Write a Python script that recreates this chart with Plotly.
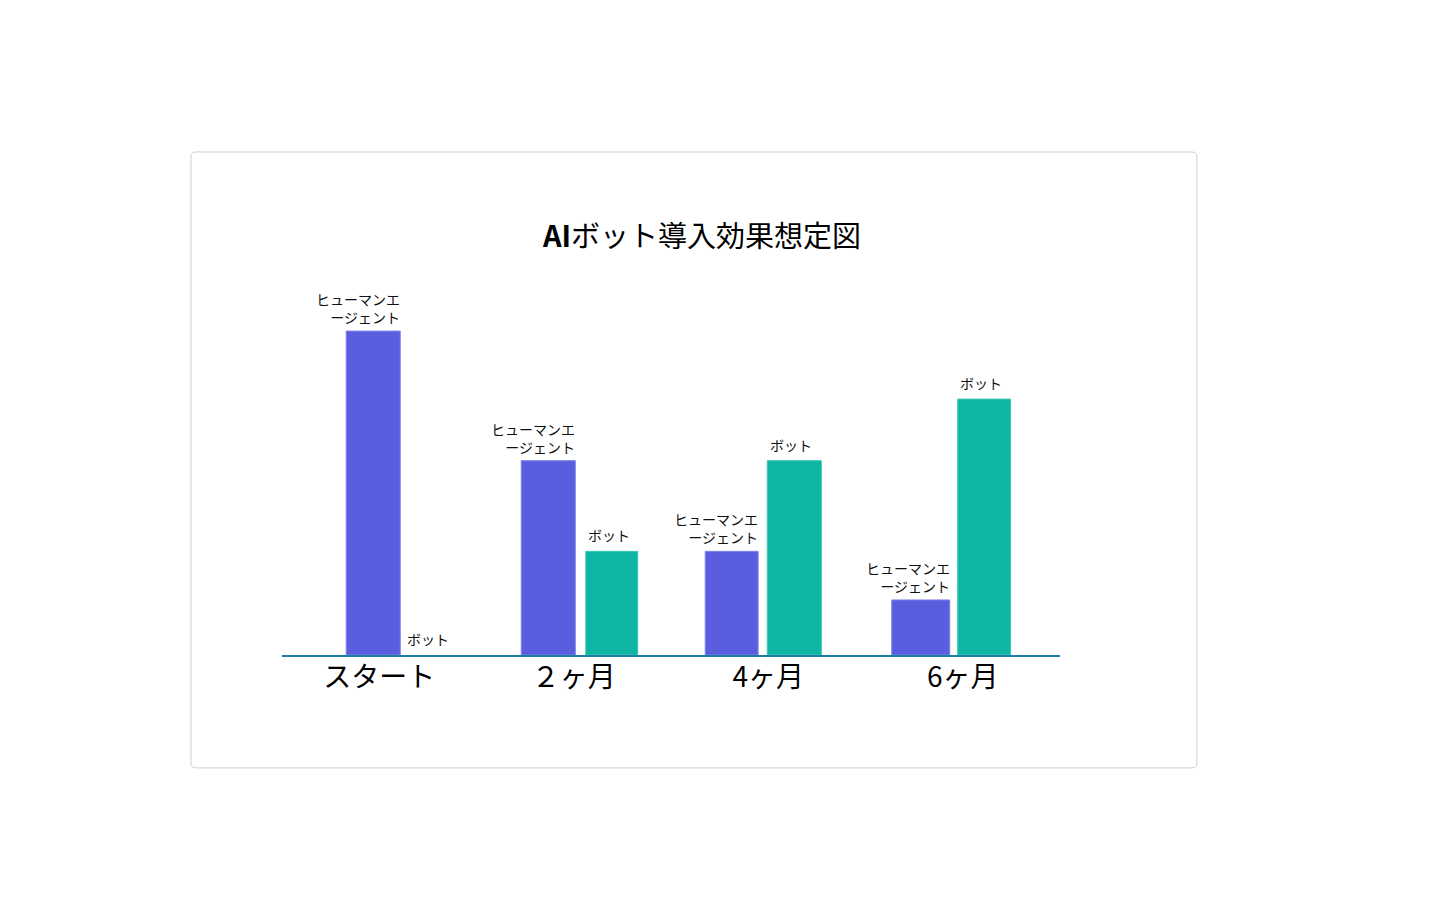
import plotly.graph_objects as go

# data
periods = ["スタート", "２ヶ月", "4ヶ月", "6ヶ月"]
human = [100, 60, 32, 17]
bot = [0, 32, 60, 79]
human_label = "ヒューマンエ<br>ージェント"
bot_label = "ボット"

PURPLE = "#5A5EDE"
TEAL = "#0FB5A3"
FONT = "Noto Sans CJK JP"

# bar placement inside each category (category units)
human_off = [-0.17, -0.27, -0.324, -0.365]
human_w = [0.278, 0.278, 0.272, 0.298]
bot_off = [0.135, 0.062, -0.005, -0.026]
bot_w = [0.26, 0.267, 0.278, 0.272]

fig = go.Figure()
fig.add_trace(go.Bar(x=periods, y=human, offset=human_off, width=human_w,
                     marker=dict(color=PURPLE, line=dict(color="#7F83EA", width=1)),
                     name="ヒューマンエージェント"))
fig.add_trace(go.Bar(x=periods, y=bot, offset=bot_off, width=bot_w,
                     marker=dict(color=TEAL, line=dict(color="#3CC7B8",
                                                       width=[0 if v == 0 else 1 for v in bot])),
                     name="ボット"))

# labels above bars
for i, v in enumerate(human):
    fig.add_annotation(x=i + human_off[i] + human_w[i], y=v, text=human_label,
                       xanchor="right", yanchor="bottom", align="right",
                       showarrow=False, yshift=2, xshift=2,
                       font=dict(family=FONT, size=14, color="#111"))
for i, v in enumerate(bot):
    fig.add_annotation(x=i + bot_off[i] + bot_w[i] / 2, y=v, text=bot_label,
                       xanchor="center", yanchor="bottom",
                       showarrow=False, yshift=4, xshift=-3,
                       font=dict(family=FONT, size=14, color="#111"))

# card frame with rounded corners (paper coords)
x0, x1, y0, y1 = -0.117, 1.176, -0.318, 1.417
rx, ry = 0.0065, 0.014
card = (f"M {x0+rx},{y1} L {x1-rx},{y1} Q {x1},{y1} {x1},{y1-ry} "
        f"L {x1},{y0+ry} Q {x1},{y0} {x1-rx},{y0} "
        f"L {x0+rx},{y0} Q {x0},{y0} {x0},{y0+ry} "
        f"L {x0},{y1-ry} Q {x0},{y1} {x0+rx},{y1} Z")
fig.add_shape(type="path", path=card, xref="paper", yref="paper",
              line=dict(color="#CFCFCF", width=1), layer="below")

fig.update_layout(
    width=1440, height=900,
    margin=dict(l=274, r=388, t=292, b=253),
    paper_bgcolor="white", plot_bgcolor="white",
    showlegend=False,
    title=dict(text="<b>AI</b>ボット導入効果想定図", x=694 / 1440, xref="container",
               xanchor="center", y=1 - 229 / 900, yanchor="middle",
               font=dict(family=FONT, size=29, color="#000")),
    font=dict(family=FONT),
)
fig.update_xaxes(showline=True, linecolor="#1C7FA6", linewidth=2,
                 showgrid=False, zeroline=False, ticks="",
                 tickfont=dict(family=FONT, size=28, color="#000"),
                 ticklabelstandoff=-4,
                 range=[-0.5, 3.5], fixedrange=True)
fig.update_yaxes(visible=False, range=[0, 109.6], fixedrange=True)

fig.write_html("out.html")
